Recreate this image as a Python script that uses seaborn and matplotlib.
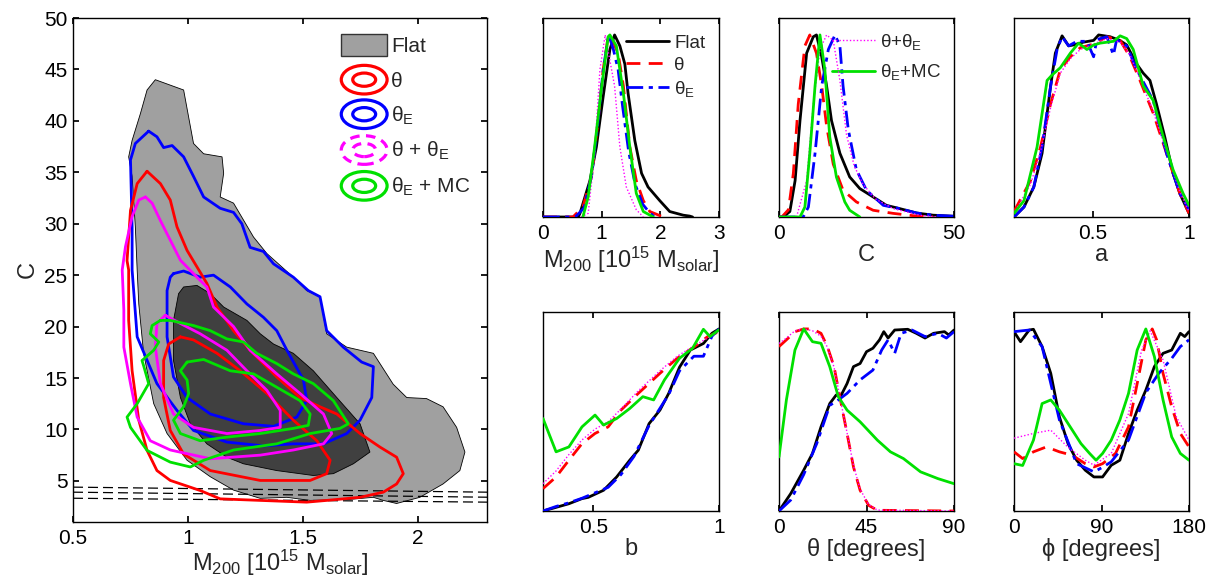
import numpy as np
import pandas as pd
import matplotlib
matplotlib.use("Agg")
import matplotlib.pyplot as plt
import seaborn as sns
from matplotlib.legend_handler import HandlerBase
from matplotlib.patches import Ellipse, Rectangle

# ---------------------------------------------------------------------------
# 2D credible regions in the (M200, C) plane: closed outlines (M200, C)
# ---------------------------------------------------------------------------
FLAT_95 = [(0.858, 44.0), (0.981, 43.0), (1.024, 37.8), (1.068, 36.8), (1.148, 36.5),
           (1.155, 34.9), (1.140, 32.6), (1.198, 32.0), (1.285, 28.7), (1.343, 27.1),
           (1.458, 24.8), (1.516, 23.5), (1.574, 22.9), (1.603, 19.3), (1.690, 18.0),
           (1.806, 17.4), (1.892, 14.4), (1.951, 13.1), (2.037, 13.0), (2.109, 12.2),
           (2.168, 10.2), (2.204, 7.8), (2.182, 6.0), (2.109, 4.7), (2.008, 3.4),
           (1.907, 2.8), (1.849, 3.1), (1.806, 3.4), (1.704, 3.2), (1.531, 3.1),
           (1.430, 3.4), (1.314, 3.3), (1.198, 4.1), (1.097, 5.4), (0.996, 7.0),
           (0.909, 9.6), (0.851, 12.5), (0.807, 17.4), (0.786, 22.2), (0.779, 25.5),
           (0.771, 29.7), (0.757, 34.6), (0.742, 36.5), (0.757, 38.1), (0.793, 40.7),
           (0.822, 43.0)]
FLAT_68 = [(0.981, 23.85), (1.039, 24.0), (1.097, 23.2), (1.155, 21.9), (1.256, 20.6),
           (1.314, 19.3), (1.372, 18.3), (1.458, 17.4), (1.545, 15.7), (1.647, 13.1),
           (1.748, 10.55), (1.791, 7.8), (1.719, 6.66), (1.632, 5.7), (1.545, 5.52),
           (1.386, 6.0), (1.241, 6.66), (1.169, 7.3), (1.082, 8.6), (1.010, 10.55),
           (0.967, 13.1), (0.937, 16.7), (0.937, 20.6), (0.959, 23.2)]

THETA_95 = [(0.822, 35.1), (0.880, 33.9), (0.923, 32.3), (0.952, 29.7), (0.996, 27.4),
            (1.039, 25.8), (1.082, 24.2), (1.126, 21.9), (1.198, 19.6), (1.270, 17.7),
            (1.386, 15.1), (1.487, 13.1), (1.574, 12.2), (1.647, 11.5), (1.748, 9.6),
            (1.835, 8.28), (1.907, 7.3), (1.936, 5.7), (1.907, 4.7), (1.849, 3.9),
            (1.748, 3.4), (1.603, 3.1), (1.516, 2.93), (1.314, 3.1), (1.140, 3.25),
            (1.053, 4.06), (0.923, 5.04), (0.865, 6.0), (0.822, 7.96), (0.786, 10.9),
            (0.757, 15.7), (0.742, 20.6), (0.742, 25.5), (0.735, 26.4), (0.750, 31.3),
            (0.779, 33.9)]
THETA_68 = [(0.967, 19.0), (1.024, 18.7), (1.126, 17.4), (1.227, 15.7), (1.343, 13.5),
            (1.458, 10.9), (1.560, 8.9), (1.618, 7.0), (1.603, 5.7), (1.531, 5.04),
            (1.314, 5.04), (1.097, 6.0), (0.981, 7.6), (0.923, 9.9), (0.894, 13.1),
            (0.894, 16.7), (0.916, 18.3)]

THETAE_95 = [(0.829, 39.0), (0.865, 38.45), (0.894, 37.4), (0.931, 37.6), (0.981, 36.5),
             (1.024, 34.6), (1.068, 32.6), (1.140, 31.5), (1.198, 31.1), (1.234, 30.0),
             (1.270, 27.7), (1.328, 27.3), (1.372, 26.1), (1.458, 24.8), (1.523, 23.5),
             (1.574, 22.9), (1.603, 19.6), (1.675, 18.0), (1.755, 16.55), (1.806, 16.1),
             (1.799, 13.1), (1.748, 10.9), (1.690, 9.6), (1.589, 8.6), (1.458, 8.6),
             (1.328, 8.4), (1.169, 8.77), (1.024, 9.9), (0.952, 11.85), (0.865, 14.45),
             (0.779, 19.0), (0.757, 25.5), (0.757, 29.7), (0.750, 36.2), (0.771, 37.8)]
THETAE_68 = [(0.937, 25.15), (0.981, 25.4), (1.053, 24.8), (1.111, 25.0), (1.184, 23.85),
             (1.256, 22.2), (1.328, 20.9), (1.386, 19.6), (1.430, 17.7), (1.502, 14.8),
             (1.516, 12.8), (1.473, 11.2), (1.372, 10.3), (1.241, 10.55), (1.097, 11.5),
             (0.996, 13.1), (0.937, 15.1), (0.909, 19.0), (0.909, 23.5), (0.923, 24.8)]

BOTH_95 = [(0.815, 32.6), (0.844, 32.0), (0.880, 30.3), (0.923, 28.4), (0.967, 26.45),
           (1.039, 24.8), (1.082, 23.85), (1.111, 21.9), (1.198, 20.0), (1.270, 17.7),
           (1.386, 15.4), (1.487, 13.5), (1.589, 11.5), (1.625, 9.6), (1.589, 8.6),
           (1.458, 8.0), (1.314, 7.5), (1.097, 7.15), (0.923, 8.0), (0.836, 8.9),
           (0.779, 11.2), (0.750, 14.45), (0.721, 18.0), (0.721, 21.6), (0.714, 25.5),
           (0.728, 27.75), (0.757, 30.7), (0.786, 32.3)]
BOTH_68 = [(0.901, 21.1), (0.967, 20.3), (1.053, 19.3), (1.169, 17.7), (1.256, 15.7),
           (1.343, 13.8), (1.401, 11.85), (1.401, 10.2), (1.314, 9.9), (1.169, 9.6),
           (1.024, 10.2), (0.937, 11.5), (0.880, 14.45), (0.858, 18.0), (0.865, 20.3)]

MC_95 = [(0.880, 20.6), (0.923, 20.6), (1.024, 20.1), (1.097, 19.6), (1.169, 18.8),
         (1.241, 18.5), (1.299, 17.4), (1.386, 16.4), (1.458, 15.4), (1.545, 14.45),
         (1.632, 12.8), (1.697, 10.55), (1.661, 10.1), (1.531, 9.6), (1.386, 8.6),
         (1.198, 8.0), (1.068, 7.0), (1.010, 6.35), (0.923, 6.82), (0.822, 7.96),
         (0.750, 10.2), (0.735, 11.2), (0.779, 12.5), (0.829, 14.45), (0.807, 16.2),
         (0.800, 16.7), (0.851, 17.7), (0.873, 18.5), (0.836, 19.3), (0.844, 20.1)]
MC_68 = [(0.996, 16.55), (1.068, 16.8), (1.184, 15.7), (1.285, 15.4), (1.386, 14.1),
         (1.487, 12.8), (1.531, 11.5), (1.523, 10.4), (1.458, 10.1), (1.314, 9.6),
         (1.169, 9.25), (1.053, 8.9), (0.967, 9.6), (0.937, 10.9), (0.981, 12.2),
         (1.003, 13.5), (0.996, 14.8), (0.967, 15.7)]

# lower concentration bounds: M200 at both ends, C at both ends
BOUND_M = [0.5, 2.3]
BOUND_C = [(4.39, 3.90), (3.90, 3.41), (3.31, 2.93)]

# ---------------------------------------------------------------------------
# 1D marginalised posteriors (normalised to peak 1): (x, P)
# ---------------------------------------------------------------------------
M200_FLAT = [(0, 0), (0.6, 0), (0.63, 0.02), (0.8, 0.2), (0.91, 0.385), (1.025, 0.66),
             (1.14, 0.92), (1.22, 1.0), (1.31, 0.94), (1.395, 0.84), (1.45, 0.68),
             (1.565, 0.42), (1.68, 0.24), (1.79, 0.165), (1.99, 0.09), (2.16, 0.03),
             (2.39, 0.01), (2.5, 0.005), (2.55, 0)]
M200_THETA = [(0, 0), (0.51, 0), (0.68, 0.055), (0.825, 0.22), (0.94, 0.53), (1.025, 0.81),
              (1.11, 0.99), (1.14, 1.0), (1.17, 0.98), (1.28, 0.9), (1.37, 0.72),
              (1.48, 0.385), (1.59, 0.2), (1.71, 0.09), (1.82, 0.03), (2.05, 0)]
M200_THETAE = [(0, 0), (0.55, 0), (0.7, 0.05), (0.83, 0.23), (0.94, 0.53), (1.03, 0.82),
               (1.12, 1.0), (1.2, 0.92), (1.28, 0.81), (1.36, 0.6), (1.46, 0.36),
               (1.57, 0.18), (1.7, 0.07), (1.8, 0.03), (1.9, 0)]
M200_BOTH = [(0.65, 0), (0.77, 0.02), (0.88, 0.35), (0.97, 0.81), (1.06, 1.0),
             (1.22, 0.72), (1.31, 0.385), (1.42, 0.165), (1.59, 0.04), (1.71, 0)]
M200_MC = [(0.68, 0), (0.77, 0.11), (0.88, 0.385), (1.0, 0.716), (1.11, 0.99), (1.14, 1.0),
           (1.25, 0.94), (1.37, 0.68), (1.48, 0.385), (1.59, 0.13), (1.71, 0.03), (1.88, 0)]

C_FLAT = [(0, 0), (1.2, 0), (3.1, 0.03), (4.6, 0.2), (6.0, 0.53), (7.9, 0.9), (9.8, 0.99),
          (10.7, 1.0), (12.2, 0.88), (13.6, 0.72), (15.0, 0.53), (17.4, 0.35), (20.2, 0.22),
          (23.1, 0.156), (26.9, 0.11), (30.7, 0.064), (34.5, 0.046), (39.3, 0.022),
          (44.0, 0.01), (50.0, 0.004)]
C_THETA = [(0, 0), (0.8, 0), (2.7, 0.04), (4.1, 0.24), (5.5, 0.62), (7.4, 0.94), (8.8, 1.0),
           (10.7, 0.9), (12.2, 0.72), (13.6, 0.5), (15.5, 0.29), (18.3, 0.147), (22.1, 0.083),
           (26.9, 0.037), (32.6, 0.02), (39.3, 0.005), (44.0, 0)]
C_THETAE = [(0, 0), (6.9, 0), (8.4, 0.055), (10.3, 0.35), (12.2, 0.72), (14.1, 0.92),
            (16.0, 1.0), (17.4, 0.94), (18.3, 0.72), (19.8, 0.48), (22.1, 0.26), (25.0, 0.147),
            (29.8, 0.064), (34.5, 0.046), (39.3, 0.022), (44.0, 0.01), (50.0, 0.004)]
C_BOTH = [(5.0, 0), (7.9, 0.2), (9.8, 0.62), (11.7, 0.92), (13.6, 1.0), (15.5, 0.97),
          (17.4, 0.75), (19.3, 0.45), (21.5, 0.28), (24.0, 0.18), (27.5, 0.1), (32.6, 0.046),
          (40.2, 0.01), (45.0, 0)]
C_MC = [(0, 0), (6.0, 0), (7.4, 0.055), (8.8, 0.35), (10.3, 0.72), (11.7, 1.0), (13.1, 0.81),
        (14.5, 0.44), (16.4, 0.22), (18.8, 0.083), (20.2, 0.037), (23.1, 0)]

A_FLAT = [(0.09, 0), (0.142, 0.055), (0.193, 0.165), (0.236, 0.35), (0.28, 0.716),
          (0.305, 0.9), (0.34, 0.995), (0.374, 0.94), (0.40, 0.945), (0.45, 0.96),
          (0.504, 0.97), (0.53, 1.0), (0.59, 0.99), (0.64, 0.97), (0.676, 0.945),
          (0.728, 0.84), (0.762, 0.79), (0.797, 0.75), (0.831, 0.62), (0.874, 0.44),
          (0.917, 0.24), (0.952, 0.13), (1.0, 0.02)]
A_THETA = [(0.09, 0.03), (0.176, 0.2), (0.228, 0.385), (0.28, 0.62), (0.331, 0.81),
           (0.383, 0.88), (0.435, 0.93), (0.504, 0.95), (0.573, 0.99), (0.642, 0.97),
           (0.693, 0.88), (0.745, 0.75), (0.814, 0.57), (0.883, 0.35), (0.952, 0.13),
           (1.0, 0.02)]
A_THETAE = [(0.09, 0), (0.142, 0.055), (0.193, 0.165), (0.236, 0.385), (0.28, 0.716),
            (0.314, 0.92), (0.34, 0.99), (0.374, 0.94), (0.417, 0.965), (0.469, 0.965),
            (0.504, 0.88), (0.521, 0.975), (0.573, 0.99), (0.607, 0.89), (0.624, 0.975),
            (0.676, 0.94), (0.728, 0.81), (0.814, 0.64), (0.883, 0.35), (0.952, 0.13),
            (1.0, 0.04)]
A_BOTH = [(0.09, 0.02), (0.176, 0.18), (0.228, 0.36), (0.28, 0.6), (0.331, 0.79),
          (0.383, 0.87), (0.435, 0.92), (0.504, 0.95), (0.573, 0.98), (0.642, 0.96),
          (0.693, 0.89), (0.745, 0.76), (0.814, 0.58), (0.883, 0.36), (0.952, 0.14),
          (1.0, 0.03)]
A_MC = [(0.09, 0.02), (0.142, 0.09), (0.21, 0.385), (0.262, 0.75), (0.288, 0.78),
        (0.331, 0.82), (0.383, 0.9), (0.426, 0.955), (0.469, 0.92), (0.504, 0.945),
        (0.538, 0.955), (0.607, 0.965), (0.642, 0.995), (0.676, 0.98), (0.71, 0.92),
        (0.762, 0.72), (0.814, 0.64), (0.866, 0.44), (0.917, 0.26), (0.969, 0.13),
        (1.0, 0.064)]

B_FLAT = [(0.3, 0), (0.352, 0.02), (0.403, 0.04), (0.455, 0.068), (0.48, 0.075),
          (0.541, 0.114), (0.593, 0.187), (0.645, 0.279), (0.679, 0.334), (0.722, 0.48),
          (0.765, 0.554), (0.8, 0.646), (0.843, 0.79), (0.886, 0.884), (0.938, 0.92),
          (0.972, 0.976), (1.0, 1.0)]
B_THETA = [(0.3, 0.123), (0.352, 0.187), (0.403, 0.279), (0.455, 0.37), (0.507, 0.426),
           (0.559, 0.462), (0.61, 0.554), (0.679, 0.646), (0.765, 0.756), (0.834, 0.839),
           (0.903, 0.903), (0.955, 0.958), (1.0, 0.985)]
B_THETAE = [(0.3, 0), (0.352, 0.025), (0.403, 0.045), (0.455, 0.07), (0.507, 0.1),
            (0.559, 0.13), (0.61, 0.2), (0.662, 0.3), (0.722, 0.47), (0.8, 0.64),
            (0.843, 0.77), (0.90, 0.85), (0.938, 0.85), (0.972, 0.96), (1.0, 1.0)]
B_BOTH = [(0.3, 0.15), (0.352, 0.22), (0.403, 0.31), (0.455, 0.39), (0.507, 0.45),
          (0.559, 0.49), (0.61, 0.56), (0.679, 0.66), (0.765, 0.77), (0.834, 0.85),
          (0.903, 0.91), (0.955, 0.95), (1.0, 0.99)]
B_MC = [(0.3, 0.508), (0.352, 0.325), (0.403, 0.352), (0.455, 0.462), (0.507, 0.527),
        (0.541, 0.472), (0.593, 0.508), (0.645, 0.563), (0.697, 0.628), (0.74, 0.61),
        (0.783, 0.72), (0.843, 0.839), (0.895, 0.894), (0.938, 0.998), (0.964, 0.958),
        (1.0, 0.995)]

THETA_FLAT = [(0, 0), (6.0, 0.095), (12.7, 0.224), (17.2, 0.316), (21.6, 0.462),
              (26.1, 0.59), (29.4, 0.637), (31.6, 0.628), (35.0, 0.7), (38.3, 0.793),
              (41.7, 0.81), (45.0, 0.875), (48.3, 0.894), (51.7, 0.94), (53.9, 0.985),
              (56.1, 0.95), (59.5, 0.994), (66.2, 0.998), (70.6, 0.976), (75.1, 0.95),
              (79.5, 0.976), (85.1, 0.985), (87.3, 0.967), (90.0, 0.994)]
THETA_THETA = [(0, 0.903), (3.8, 0.94), (8.2, 0.985), (12.7, 1.0), (17.2, 1.0),
               (21.6, 0.976), (24.9, 0.903), (28.3, 0.793), (31.6, 0.61), (35.0, 0.426),
               (38.3, 0.242), (41.7, 0.114), (46.1, 0.031), (50.6, 0.004), (90.0, 0)]
THETA_THETAE = [(0, 0), (6.0, 0.06), (12.7, 0.2), (19.4, 0.37), (26.1, 0.58), (30.5, 0.61),
                (35.0, 0.646), (41.7, 0.72), (48.3, 0.774), (52.8, 0.884), (56.1, 0.94),
                (59.5, 0.866), (62.8, 0.976), (68.4, 0.994), (75.1, 0.958), (81.7, 0.976),
                (86.1, 0.95), (90.0, 0.985)]
THETA_BOTH = [(0, 0.92), (3.8, 0.95), (8.2, 0.99), (12.7, 1.0), (17.2, 0.99),
              (21.6, 0.96), (24.9, 0.9), (28.3, 0.79), (31.6, 0.61), (35.0, 0.43),
              (38.3, 0.25), (41.7, 0.12), (46.1, 0.035), (50.6, 0.005), (90.0, 0)]
THETA_MC = [(0, 0.297), (3.8, 0.61), (8.2, 0.884), (12.7, 1.0), (17.2, 0.93), (21.6, 0.921),
            (26.1, 0.793), (30.5, 0.628), (35.0, 0.554), (41.7, 0.49), (50.6, 0.389),
            (57.3, 0.325), (64.0, 0.288), (72.8, 0.215), (81.7, 0.178), (90.0, 0.15)]

PHI_FLAT = [(0, 0.985), (6.7, 0.93), (15.6, 0.994), (20.0, 0.998), (28.9, 0.903),
            (37.8, 0.756), (46.7, 0.517), (55.6, 0.37), (64.4, 0.279), (73.3, 0.224),
            (82.2, 0.187), (91.1, 0.187), (100.0, 0.251), (108.9, 0.279), (117.8, 0.426),
            (126.7, 0.554), (135.6, 0.664), (144.4, 0.793), (153.3, 0.866), (162.2, 0.884),
            (171.1, 0.976), (175.6, 0.958), (180.0, 0.985)]
PHI_THETA = [(0, 0.325), (8.9, 0.288), (20.0, 0.325), (33.3, 0.352), (46.7, 0.325),
             (60.0, 0.306), (73.3, 0.26), (82.2, 0.242), (91.1, 0.26), (104.4, 0.316),
             (117.8, 0.462), (126.7, 0.7), (135.6, 0.94), (142.2, 1.0), (146.7, 0.94),
             (153.3, 0.756), (162.2, 0.572), (171.1, 0.426), (180.0, 0.352)]
PHI_THETAE = [(0, 0.985), (15.6, 0.994), (28.9, 0.903), (46.7, 0.5), (64.4, 0.26),
              (82.2, 0.215), (91.1, 0.24), (100.0, 0.27), (117.8, 0.39), (135.6, 0.65),
              (148.9, 0.756), (162.2, 0.838), (171.1, 0.903), (180.0, 0.94)]
PHI_BOTH = [(0, 0.4), (20.0, 0.426), (37.8, 0.444), (55.6, 0.35), (73.3, 0.279),
            (82.2, 0.252), (100.0, 0.316), (117.8, 0.535), (131.1, 0.88), (140.0, 0.99),
            (153.3, 0.83), (166.7, 0.52), (180.0, 0.39)]
PHI_MC = [(0, 0.26), (8.9, 0.25), (20.0, 0.389), (28.9, 0.59), (37.8, 0.61), (46.7, 0.554),
          (60.0, 0.444), (68.9, 0.37), (77.8, 0.316), (84.4, 0.279), (91.1, 0.316),
          (100.0, 0.389), (108.9, 0.5), (117.8, 0.646), (126.7, 0.884), (135.6, 1.0),
          (144.4, 0.848), (153.3, 0.61), (162.2, 0.407), (171.1, 0.316), (180.0, 0.279)]

PRIORS = ["Flat", "θ", "θ$_{\\rm E}$", "θ+θ$_{\\rm E}$", "θ$_{\\rm E}$+MC"]
COLORS = ["black", "#ff0000", "#0000ff", "#ff00ff", "#00e000"]
LIGHT_GREY = "#a0a0a0"
DARK_GREY = "#404040"

# ---------------------------------------------------------------------------
sns.set_theme(style="ticks")
plt.rcParams.update({
    "font.family": ["Liberation Sans", "DejaVu Sans"],
    "mathtext.fontset": "custom",
    "mathtext.rm": "Liberation Sans",
    "mathtext.it": "Liberation Sans:italic",
    "mathtext.bf": "Liberation Sans:bold",
    "font.size": 15,
    "axes.edgecolor": "black",
    "axes.linewidth": 1.0,
    "xtick.color": "black", "ytick.color": "black",
    "xtick.direction": "in", "ytick.direction": "in",
    "xtick.top": True, "ytick.right": True,
    "xtick.major.size": 4, "ytick.major.size": 4,
    "xtick.major.pad": 5, "ytick.major.pad": 4,
    "xtick.labelsize": 15, "ytick.labelsize": 15,
    "axes.labelsize": 17,
})

fig = plt.figure(figsize=(12.11, 5.80), dpi=100)
W, H = 1211, 580


def px_axes(left, top, right, bottom):
    return fig.add_axes([left / W, 1 - bottom / H, (right - left) / W, (bottom - top) / H])


# ---------------------------- main 2D panel --------------------------------
ax = px_axes(73, 18, 487, 522)


def outline(points, color, lw=2.0, z=3):
    pts = np.array(points + [points[0]])
    sns.lineplot(x=pts[:, 0], y=pts[:, 1], sort=False, estimator=None, ax=ax,
                 color=color, lw=lw, zorder=z)


for region, shade in [(FLAT_95, LIGHT_GREY), (FLAT_68, DARK_GREY)]:
    pts = np.array(region)
    ax.fill(pts[:, 0], pts[:, 1], facecolor=shade, edgecolor="black", lw=0.6, zorder=1)

for (c_left, c_right) in BOUND_C:
    sns.lineplot(x=BOUND_M, y=[c_left, c_right], ax=ax, color="black", lw=0.9,
                 dashes=(8, 4), zorder=2)

outline(THETAE_95, COLORS[2]); outline(THETAE_68, COLORS[2])
outline(THETA_95, COLORS[1]); outline(THETA_68, COLORS[1])
outline(BOTH_95, COLORS[3]); outline(BOTH_68, COLORS[3])
outline(MC_95, COLORS[4]); outline(MC_68, COLORS[4])

ax.set_xlim(0.5, 2.3)
ax.set_ylim(1, 50)
ax.set_xticks([0.5, 1, 1.5, 2])
ax.set_xticklabels(["0.5", "1", "1.5", "2"])
ax.set_yticks(range(5, 51, 5))
ax.set_xlabel("M$_{200}$ [10$^{15}$ M$_{\\rm solar}$]", labelpad=0)
ax.set_ylabel("C", labelpad=4)


class RingHandle:
    def __init__(self, color, ls):
        self.color = color
        self.ls = ls


class RingHandler(HandlerBase):
    def create_artists(self, legend, orig_handle, xdescent, ydescent, width, height,
                       fontsize, trans):
        cx = 0.5 * width - xdescent
        cy = 0.5 * height - ydescent
        outer = Ellipse((cx, cy), width, height * 1.3, fill=False, ec=orig_handle.color,
                        lw=2.3, ls=orig_handle.ls, transform=trans)
        inner = Ellipse((cx, cy), width * 0.5, height * 0.6, fill=False,
                        ec=orig_handle.color, lw=2.3, ls=orig_handle.ls, transform=trans)
        return [outer, inner]


flat_patch = Rectangle((0, 0), 1, 1, facecolor=LIGHT_GREY, edgecolor="#333333", lw=1.0)
ring_handles = [RingHandle(COLORS[1], "-"), RingHandle(COLORS[2], "-"),
                RingHandle(COLORS[3], (0, (3, 2))), RingHandle(COLORS[4], "-")]
ax.legend([flat_patch] + ring_handles,
          ["Flat", "θ", "θ$_{\\rm E}$", "θ + θ$_{\\rm E}$", "θ$_{\\rm E}$ + MC"],
          handler_map={RingHandle: RingHandler()},
          loc="upper left", bbox_to_anchor=(0.648, 0.968), frameon=False,
          handlelength=2.2, handleheight=1.25, handletextpad=0.2,
          labelspacing=0.6, borderpad=0, borderaxespad=0, fontsize=15)

# ---------------------------- 1D marginals ---------------------------------
STYLES = [dict(lw=2.0, ls="-"), dict(lw=2.0, dashes=(5, 3)), dict(lw=2.0, dashes=(6, 2, 1.5, 2)),
          dict(lw=1.0, dashes=(1, 1.5)), dict(lw=2.0, ls="-")]

panels = [
    ((543, 18, 719, 217), [M200_FLAT, M200_THETA, M200_THETAE, M200_BOTH, M200_MC],
     (0, 3), [0, 1, 2, 3], ["0", "1", "2", "3"], "M$_{200}$ [10$^{15}$ M$_{\\rm solar}$]"),
    ((779, 18, 954, 217), [C_FLAT, C_THETA, C_THETAE, C_BOTH, C_MC],
     (0, 50), [0, 50], ["0", "50"], "C"),
    ((1014, 18, 1189, 217), [A_FLAT, A_THETA, A_THETAE, A_BOTH, A_MC],
     (0.09, 1), [0.5, 1], ["0.5", "1"], "a"),
    ((543, 312, 719, 511), [B_FLAT, B_THETA, B_THETAE, B_BOTH, B_MC],
     (0.3, 1), [0.5, 1], ["0.5", "1"], "b"),
    ((779, 312, 954, 511), [THETA_FLAT, THETA_THETA, THETA_THETAE, THETA_BOTH, THETA_MC],
     (0, 90), [0, 45, 90], ["0", "45", "90"], "θ [degrees]"),
    ((1014, 312, 1189, 511), [PHI_FLAT, PHI_THETA, PHI_THETAE, PHI_BOTH, PHI_MC],
     (0, 180), [0, 90, 180], ["0", "90", "180"], "ϕ [degrees]"),
]

small_axes = []
series_lines = []
for box, curves, xlim, ticks, ticklabels, xlabel in panels:
    sax = px_axes(*box)
    small_axes.append(sax)
    lines = {}
    for i in [2, 1, 3, 0, 4]:
        pts = np.array(curves[i], dtype=float)
        sns.lineplot(x=pts[:, 0], y=pts[:, 1], sort=False, estimator=None, ax=sax,
                     color=COLORS[i], zorder=3 + i, **STYLES[i])
        lines[i] = sax.get_lines()[-1]
    series_lines.append(lines)
    sax.set_xlim(*xlim)
    sax.set_ylim(0, 1.093)
    sax.set_xticks(ticks)
    sax.set_xticklabels(ticklabels)
    sax.set_yticks([])
    sax.set_xlabel(xlabel, labelpad=1)

h1 = series_lines[0]
small_axes[0].legend([h1[0], h1[1], h1[2]], PRIORS[:3], loc="upper left",
                     bbox_to_anchor=(0.47, 0.915), frameon=False, handlelength=2.3,
                     handletextpad=0.3, labelspacing=0.25, borderpad=0, borderaxespad=0,
                     fontsize=13.5)
h2 = series_lines[1]
small_axes[1].legend([h2[3], h2[4]], PRIORS[3:], loc="upper left",
                     bbox_to_anchor=(0.3, 0.93), frameon=False, handlelength=2.3,
                     handletextpad=0.3, labelspacing=0.55, borderpad=0, borderaxespad=0,
                     fontsize=13.5)

fig.savefig("out.png", dpi=100)
